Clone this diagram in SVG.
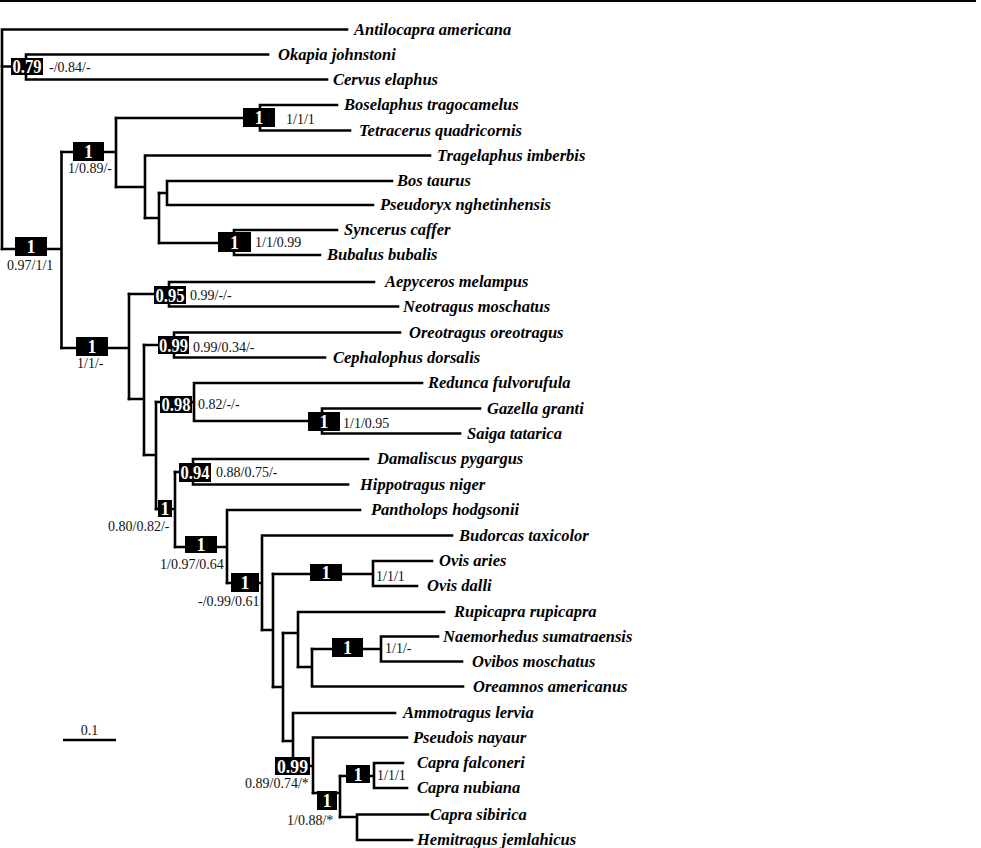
<svg xmlns="http://www.w3.org/2000/svg" width="981" height="848" viewBox="0 0 981 848">
<style>
.br{fill:none;stroke:#000;stroke-width:2.6;stroke-linecap:square}
.sp{font-family:"Liberation Serif","Times New Roman",serif;font-style:italic;font-weight:bold;font-size:16.5px;fill:#000}
.sv{font-family:"Liberation Serif","Times New Roman",serif;font-size:14px;fill:#111}
.bx{fill:#000}
.bt{font-family:"Liberation Serif","Times New Roman",serif;font-weight:bold;font-size:18px;fill:#fff;text-anchor:middle}
</style>
<rect width="981" height="848" fill="#fff"/>
<line x1="0" y1="1" x2="976" y2="1" stroke="#000" stroke-width="2"/>
<g id="connectors" class="br">
<path d="M2,29.5 V249 M2,29.5 H347"/>
<path d="M2,66.5 H26 M26,54.5 V79.5 M26,54.5 H268 M26,79.5 H327"/>
<path d="M2,249 H61.5 M61.5,152 V348"/>
<path d="M61.5,152 H116 M116,118 V187"/>
<path d="M116,118 H260 M260,105 V130.5 M260,105 H337 M260,130.5 H350"/>
<path d="M116,187 H145 M145,155.5 V218 M145,155.5 H430"/>
<path d="M145,218 H159 M159,193 V243"/>
<path d="M159,193 H167 M167,181 V205 M167,181 H392 M167,205 H373"/>
<path d="M159,243 H234 M234,230 V255 M234,230 H337 M234,255 H320"/>
<path d="M61.5,348 H129 M129,294 V399"/>
<path d="M129,294 H169 M169,282 V306.5 M169,282 H374 M169,306.5 H398"/>
<path d="M129,399 H144 M144,345 V455"/>
<path d="M144,345 H174 M174,332.5 V357.5 M174,332.5 H400 M174,357.5 H325"/>
<path d="M144,455 H156 M156,402 V509"/>
<path d="M156,402 H194 M194,383 V421 M194,383 H422 M194,421 H322 M322,408.5 V433.5 M322,408.5 H480 M322,433.5 H460"/>
<path d="M156,509 H175 M175,472 V547"/>
<path d="M175,472 H193 M193,459 V484.5 M193,459 H368 M193,484.5 H348"/>
<path d="M175,547 H227 M227,510 V583 M227,510 H360"/>
<path d="M227,583 H262 M262,535.5 V630 M262,535.5 H452"/>
<path d="M262,630 H273 M273,574 V687"/>
<path d="M273,574 H373 M373,561 V586 M373,561 H432 M373,586 H417"/>
<path d="M273,687 H283 M283,633 V741"/>
<path d="M283,633 H298 M298,612 V667 M298,612 H444"/>
<path d="M298,667 H312 M312,649 V686.5 M312,686.5 H463"/>
<path d="M312,649 H381 M381,636.5 V661.5 M381,636.5 H438 M381,661.5 H462"/>
<path d="M283,741 H293 M293,713 V766 M293,713 H395"/>
<path d="M293,766 H313 M313,737.5 V793 M313,737.5 H407"/>
<path d="M313,793 H340 M340,776 V817"/>
<path d="M340,776 H374 M374,763 V788 M374,763 H403 M374,788 H407"/>
<path d="M340,817 H357 M357,814.5 V840 M357,814.5 H428 M357,840 H412"/>
</g>
<g id="leaves">
<text id="t-antilocapra" class="sp" x="354" y="34.5">Antilocapra americana</text>
<text id="t-okapia" class="sp" x="278" y="59.5">Okapia johnstoni</text>
<text id="t-cervus" class="sp" x="333" y="84.5">Cervus elaphus</text>
<text id="t-boselaphus" class="sp" x="344" y="110">Boselaphus tragocamelus</text>
<text id="t-tetracerus" class="sp" x="359" y="135.5">Tetracerus quadricornis</text>
<text id="t-tragelaphus" class="sp" x="437" y="160.5">Tragelaphus imberbis</text>
<text id="t-bos" class="sp" x="397" y="186">Bos taurus</text>
<text id="t-pseudoryx" class="sp" x="380" y="210">Pseudoryx nghetinhensis</text>
<text id="t-syncerus" class="sp" x="344" y="235">Syncerus caffer</text>
<text id="t-bubalus" class="sp" x="327" y="260">Bubalus bubalis</text>
<text id="t-aepyceros" class="sp" x="385" y="287">Aepyceros melampus</text>
<text id="t-neotragus" class="sp" x="403" y="311.5">Neotragus moschatus</text>
<text id="t-oreotragus" class="sp" x="409" y="337.5">Oreotragus oreotragus</text>
<text id="t-cephalophus" class="sp" x="333" y="362.5">Cephalophus dorsalis</text>
<text id="t-redunca" class="sp" x="428" y="388">Redunca fulvorufula</text>
<text id="t-gazella" class="sp" x="487" y="413.5">Gazella granti</text>
<text id="t-saiga" class="sp" x="467" y="438.5">Saiga tatarica</text>
<text id="t-damaliscus" class="sp" x="377" y="464">Damaliscus pygargus</text>
<text id="t-hippotragus" class="sp" x="360" y="489.5">Hippotragus niger</text>
<text id="t-pantholops" class="sp" x="371" y="515">Pantholops hodgsonii</text>
<text id="t-budorcas" class="sp" x="459" y="540.5">Budorcas taxicolor</text>
<text id="t-ovisaries" class="sp" x="439" y="566">Ovis aries</text>
<text id="t-ovisdalli" class="sp" x="427" y="591">Ovis dalli</text>
<text id="t-rupicapra" class="sp" x="454" y="617">Rupicapra rupicapra</text>
<text id="t-naemorhedus" class="sp" x="443" y="641.5">Naemorhedus sumatraensis</text>
<text id="t-ovibos" class="sp" x="472" y="666.5">Ovibos moschatus</text>
<text id="t-oreamnos" class="sp" x="473" y="691.5">Oreamnos americanus</text>
<text id="t-ammotragus" class="sp" x="403" y="718">Ammotragus lervia</text>
<text id="t-pseudois" class="sp" x="413" y="742.5">Pseudois nayaur</text>
<text id="t-cfalconeri" class="sp" x="417" y="768">Capra falconeri</text>
<text id="t-cnubiana" class="sp" x="417" y="793">Capra nubiana</text>
<text id="t-csibirica" class="sp" x="430" y="819.5">Capra sibirica</text>
<text id="t-hemitragus" class="sp" x="417" y="845">Hemitragus jemlahicus</text>
</g>
<g id="n-cervidae"><rect class="bx" x="11" y="58" width="32" height="17"/><text class="bt" x="27" y="72.5" textLength="29" lengthAdjust="spacingAndGlyphs">0.79</text><text class="sv" x="49" y="72">-/0.84/-</text></g>
<g id="n-root"><rect class="bx" x="15" y="237" width="32" height="19"/><text class="bt" x="31" y="253">1</text><text class="sv" x="7" y="270">0.97/1/1</text></g>
<g id="n-bovinae"><rect class="bx" x="73" y="142" width="31" height="19"/><text class="bt" x="88.5" y="158">1</text><text class="sv" x="68" y="173">1/0.89/-</text></g>
<g id="n-boselaphini"><rect class="bx" x="243" y="108" width="32" height="19"/><text class="bt" x="259" y="124">1</text><text class="sv" x="286" y="124">1/1/1</text></g>
<g id="n-bubalina"><rect class="bx" x="218" y="232" width="33" height="20"/><text class="bt" x="234.5" y="248.5">1</text><text class="sv" x="255" y="247">1/1/0.99</text></g>
<g id="n-antilopinae"><rect class="bx" x="76" y="337" width="32" height="19"/><text class="bt" x="92" y="353">1</text><text class="sv" x="77" y="368">1/1/-</text></g>
<g id="n-aepyceros"><rect class="bx" x="154" y="286" width="32" height="18"/><text class="bt" x="170" y="301.5" textLength="29" lengthAdjust="spacingAndGlyphs">0.95</text><text class="sv" x="190" y="300">0.99/-/-</text></g>
<g id="n-cephalophini"><rect class="bx" x="158" y="336" width="31" height="18"/><text class="bt" x="173.5" y="351.5" textLength="29" lengthAdjust="spacingAndGlyphs">0.99</text><text class="sv" x="193" y="352">0.99/0.34/-</text></g>
<g id="n-reduncini"><rect class="bx" x="160" y="396" width="32" height="17"/><text class="bt" x="176" y="410.5" textLength="29" lengthAdjust="spacingAndGlyphs">0.98</text><text class="sv" x="198" y="409">0.82/-/-</text></g>
<g id="n-antilopini"><rect class="bx" x="308" y="412" width="32" height="19"/><text class="bt" x="324" y="428">1</text><text class="sv" x="343" y="428">1/1/0.95</text></g>
<g id="n-hippotragini"><rect class="bx" x="179" y="463" width="32" height="19"/><text class="bt" x="195" y="479" textLength="29" lengthAdjust="spacingAndGlyphs">0.94</text><text class="sv" x="216" y="477">0.88/0.75/-</text></g>
<g id="n-a"><rect class="bx" x="158" y="500" width="14" height="17"/><text class="bt" x="165" y="514.5">1</text><text class="sv" x="108" y="531">0.80/0.82/-</text></g>
<g id="n-caprinae"><rect class="bx" x="185" y="536" width="32" height="17"/><text class="bt" x="201" y="550.5">1</text><text class="sv" x="160" y="569">1/0.97/0.64</text></g>
<g id="n-d"><rect class="bx" x="231" y="573" width="28" height="19"/><text class="bt" x="245" y="589">1</text><text class="sv" x="198" y="606">-/0.99/0.61</text></g>
<g id="n-ovis"><rect class="bx" x="310" y="564" width="32" height="17"/><text class="bt" x="326" y="578.5">1</text><text class="sv" x="376" y="581">1/1/1</text></g>
<g id="n-naemorhedus"><rect class="bx" x="332" y="638" width="31" height="19"/><text class="bt" x="347.5" y="654">1</text><text class="sv" x="385" y="653">1/1/-</text></g>
<g id="n-caprini"><rect class="bx" x="275" y="757" width="35" height="18"/><text class="bt" x="292.5" y="772.5" textLength="31" lengthAdjust="spacingAndGlyphs">0.99</text><text class="sv" x="245" y="788">0.89/0.74/*</text></g>
<g id="n-capra"><rect class="bx" x="317" y="791" width="20" height="19"/><text class="bt" x="327" y="807">1</text><text class="sv" x="287" y="825">1/0.88/*</text></g>
<g id="n-capra2"><rect class="bx" x="346" y="765" width="24" height="18"/><text class="bt" x="358" y="780.5">1</text><text class="sv" x="377" y="780">1/1/1</text></g>
<g id="scale"><line x1="63" y1="740" x2="116" y2="740" stroke="#000" stroke-width="2.4"/><text class="sv" x="89.5" y="735" text-anchor="middle">0.1</text></g>
</svg>
